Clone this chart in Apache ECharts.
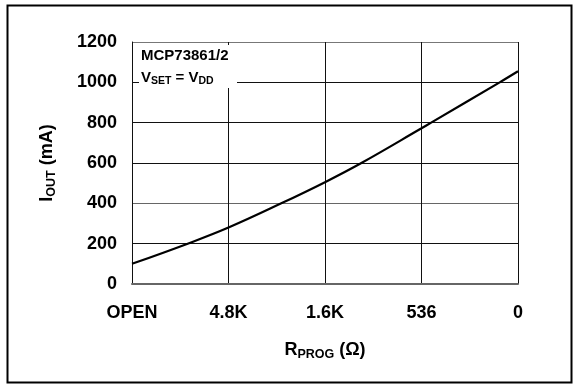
<!DOCTYPE html>
<html>
<head>
<meta charset="utf-8">
<script src="https://cdn.jsdelivr.net/npm/echarts@6/dist/echarts.min.js"></script>
<style>
html,body{margin:0;padding:0;background:#fff;}
#c{width:574px;height:384px;}
</style>
</head>
<body>
<div id="c"></div>
<script>
const xLabels = ['OPEN', '4.8K', '1.6K', '536', '0'];
const curveX = [0, 0.577, 1, 1.547, 2, 2.377, 3, 3.10, 3.81, 4];
const curveY = [100, 200, 280, 400, 505, 600, 772, 800, 1000, 1055];
const yMin = 0, yMax = 1200, yStep = 200;
const noteLine1 = 'MCP73861/2';

const FONT = 'Arial, "Liberation Sans", sans-serif';
const chart = echarts.init(document.getElementById('c'), null, {renderer: 'canvas'});
const pts = curveX.map((x, i) => [x, curveY[i]]);

chart.setOption({
  animation: false,
  backgroundColor: '#fff',
  grid: {left: 132, right: 56, top: 42, bottom: 100, containLabel: false},
  xAxis: {
    type: 'value', min: 0, max: xLabels.length - 1, interval: 1,
    axisLine: {show: true, onZero: false, lineStyle: {color: '#666', width: 2}},
    axisTick: {show: false},
    splitLine: {show: true, lineStyle: {color: '#111', width: 1}},
    axisLabel: {
      margin: 20, color: '#000', fontFamily: FONT, fontWeight: 'bold', fontSize: 18,
      formatter: v => xLabels[Math.round(v)]
    },
    name: '{b|R}{s|PROG}{b| (Ω)}',
    nameLocation: 'middle', nameGap: 56,
    nameTextStyle: {
      color: '#000', fontFamily: FONT, fontWeight: 'bold',
      rich: {
        b: {fontSize: 18, fontWeight: 'bold', fontFamily: FONT, color: '#000', lineHeight: 21, verticalAlign: 'middle'},
        s: {fontSize: 12.5, fontWeight: 'bold', fontFamily: FONT, color: '#000', lineHeight: 13, verticalAlign: 'bottom'}
      }
    }
  },
  yAxis: {
    type: 'value', min: yMin, max: yMax, interval: yStep,
    axisLine: {show: true, lineStyle: {color: '#111', width: 1}},
    axisTick: {show: false},
    splitLine: {show: true, lineStyle: {color: ['#666', '#111', '#666', '#111', '#111', '#111', '#777'], width: 1}},
    axisLabel: {margin: 15, color: '#000', fontFamily: FONT, fontWeight: 'bold', fontSize: 18,
      formatter: v => String(v)},
    name: '{b|I}{s|OUT}{b| (mA)}',
    nameLocation: 'middle', nameGap: 74, nameRotate: 90,
    nameTextStyle: {
      color: '#000', fontFamily: FONT, fontWeight: 'bold',
      rich: {
        b: {fontSize: 18, fontWeight: 'bold', fontFamily: FONT, color: '#000', lineHeight: 21, verticalAlign: 'middle'},
        s: {fontSize: 12.5, fontWeight: 'bold', fontFamily: FONT, color: '#000', lineHeight: 13, verticalAlign: 'bottom'}
      }
    }
  },
  series: [{
    type: 'line', data: pts, smooth: 0.4, showSymbol: false,
    lineStyle: {color: '#000', width: 2.2},
    z: 5
  }],
  graphic: [
    {type: 'rect', left: 5, top: 3, shape: {width: 564, height: 377},
     style: {fill: 'none', stroke: '#000', lineWidth: 2}, silent: true},
    {type: 'rect', left: 139, top: 45, shape: {width: 98, height: 43},
     style: {fill: '#fff'}, z: 10, silent: true},
    {type: 'text', left: 141, top: 48, z: 11,
     style: {text: noteLine1, fill: '#000', font: 'bold 15px ' + FONT}},
    {type: 'text', left: 141, top: 70, z: 11,
     style: {
       text: '{b|V}{s|SET}{b| = V}{s|DD}',
       rich: {
         b: {fontSize: 15, fontWeight: 'bold', fontFamily: FONT, fill: '#000', lineHeight: 18, verticalAlign: 'middle'},
         s: {fontSize: 10.5, fontWeight: 'bold', fontFamily: FONT, fill: '#000', lineHeight: 11, verticalAlign: 'bottom'}
       }
     }}
  ]
});
</script>
</body>
</html>
